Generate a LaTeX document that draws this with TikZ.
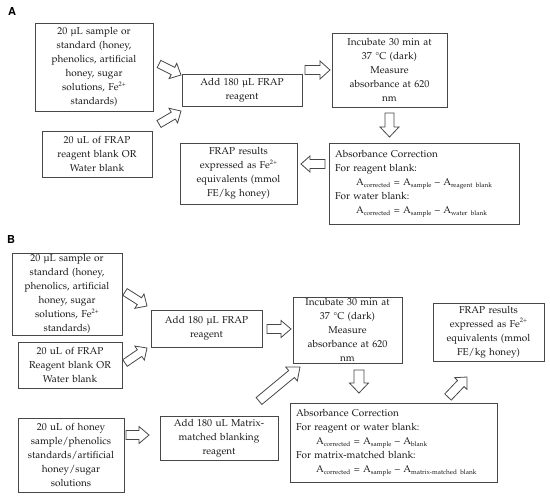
\documentclass[tikz,border=0pt]{standalone}
\usepackage[T1]{fontenc}
\usepackage{mathpazo}
\usetikzlibrary{calc}
\tikzset{
 box/.style={draw=black!72, line width=0.8pt, align=center, inner xsep=0pt, inner ysep=0pt, text=black!90, font=\fontsize{10}{14}\selectfont},
 lbox/.style={box, align=left, inner xsep=6pt},
 blk/.style={draw=black!72, line width=0.8pt, fill=white, line join=miter},
 lbl/.style={font=\fontfamily{phv}\bfseries\fontsize{11}{13}\selectfont}
}
% block arrow: #1 start, #2 tip, #3 shaft half width, #4 head half width, #5 head length
\newcommand\blkarr[5]{%
 \coordinate (tmpN) at ($(#2)!#5!(#1)$);
 \draw[blk] ($(#1)!#3!90:(#2)$) -- ($(tmpN)!#3!-90:(#1)$) -- ($(tmpN)!#4!-90:(#1)$) -- (#2)
   -- ($(tmpN)!#4!90:(#1)$) -- ($(tmpN)!#3!90:(#1)$) -- ($(#1)!#3!-90:(#2)$) -- cycle;}
\newcommand\uL{\textmu L}
\newcommand\lo[1]{\raisebox{-0.35ex}{\fontsize{6.5}{7}\selectfont #1}}
\newcommand\hi[1]{\raisebox{0.9ex}{\fontsize{6.5}{7}\selectfont #1}}
\newcommand\Acor{A\lo{corrected}}
\begin{document}
\begin{tikzpicture}[x=1pt,y=-1pt]
\useasboundingbox (0,0) rectangle (550,498);
% ---------- A ----------
\node[lbl] (labA) at (12,12) {A};
\node[box, text width=118pt, minimum height=88pt] (A1) at (94,67) {20 \uL{} sample or\\standard (honey,\\phenolics, artificial\\honey, sugar\\solutions, Fe\hi{2+}\\standards)};
\node[box, text width=120pt, minimum height=32pt] (A2) at (242,90) {Add 180 \uL{} FRAP\\reagent};
\node[box, text width=110pt, minimum height=46pt] (A3) at (97,154) {20 uL of FRAP\\reagent blank OR\\Water blank};
\node[box, text width=115pt, minimum height=74pt] (A4) at (389.5,70) {Incubate 30 min at\\37 \textdegree C (dark)\\Measure\\absorbance at 620\\nm};
\node[lbox, text width=178pt, minimum height=81pt] (A5) at (424,183.5) {Absorbance Correction\\For reagent blank:\\\hspace*{21pt}\Acor{} = A\lo{sample} -- A\lo{reagent blank}\\For water blank:\\\hspace*{21pt}\Acor{} = A\lo{sample} -- A\lo{water blank}};
\node[box, text width=117pt, minimum height=61pt] (A6) at (238.5,173.5) {FRAP results\\expressed as Fe\hi{2+}\\equivalents (mmol\\FE/kg honey)};
\coordinate (a1s) at (159,64); \coordinate (a1e) at (181,75);
\coordinate (a3s) at (159,124); \coordinate (a3e) at (181,111);
\coordinate (a2s) at (305,70); \coordinate (a2e) at (330,70);
\coordinate (a4s) at (389.5,113); \coordinate (a4e) at (389.5,137);
\coordinate (a5s) at (325,164); \coordinate (a5e) at (301,164);
\blkarr{a1s}{a1e}{4pt}{8.5pt}{9pt}
\blkarr{a3s}{a3e}{4pt}{8.5pt}{9pt}
\blkarr{a2s}{a2e}{4.5pt}{9pt}{10pt}
\blkarr{a4s}{a4e}{4.5pt}{9.5pt}{10pt}
\blkarr{a5s}{a5e}{4.5pt}{8pt}{9pt}
% ---------- B ----------
\node[lbl] (labB) at (11,240) {B};
\node[box, text width=110pt, minimum height=82pt] (B1) at (67,294) {20 \uL{} sample or\\standard (honey,\\phenolics, artificial\\honey, sugar\\solutions, Fe\hi{2+}\\standards)};
\node[box, text width=111pt, minimum height=37pt] (B2) at (206.5,328.5) {Add 180 \uL{} FRAP\\reagent};
\node[box, text width=104pt, minimum height=46pt] (B3) at (70,365) {20 uL of FRAP\\Reagent blank OR\\Water blank};
\node[box, text width=106pt, minimum height=74pt] (B4) at (71,455) {20 uL of honey\\sample/phenolics\\standards/artificial\\honey/sugar\\solutions};
\node[box, text width=118pt, minimum height=44pt] (B5) at (219,438) {Add 180 uL Matrix-\\matched blanking\\reagent};
\node[box, text width=109pt, minimum height=66pt] (B6) at (347.5,330) {Incubate 30 min at\\37 \textdegree C (dark)\\Measure\\absorbance at 620\\nm};
\node[box, text width=111pt, minimum height=58pt] (B7) at (488.5,332) {FRAP results\\expressed as Fe\hi{2+}\\equivalents (mmol\\FE/kg honey)};
\node[lbox, text width=195pt, minimum height=79pt] (B8) at (393.5,442.5) {Absorbance Correction\\For reagent or water blank:\\\hspace*{20pt}\Acor{} = A\lo{sample} -- A\lo{blank}\\For matrix-matched blank:\\\hspace*{20pt}\Acor{} = A\lo{sample} -- A\lo{matrix-matched blank}};
\coordinate (b1s) at (125,292); \coordinate (b1e) at (147,306);
\coordinate (b3s) at (125,363); \coordinate (b3e) at (147,348);
\coordinate (b2s) at (267,329); \coordinate (b2e) at (291,329);
\coordinate (b4s) at (126,435); \coordinate (b4e) at (149,435);
\coordinate (b5s) at (259,401); \coordinate (b5e) at (300,367);
\coordinate (b6s) at (359,370); \coordinate (b6e) at (359,393);
\coordinate (b8s) at (448,397); \coordinate (b8e) at (467,377);
\blkarr{b1s}{b1e}{4pt}{8.5pt}{9pt}
\blkarr{b3s}{b3e}{4pt}{8.5pt}{9pt}
\blkarr{b2s}{b2e}{4.5pt}{8.5pt}{10pt}
\blkarr{b4s}{b4e}{4.5pt}{8.5pt}{10pt}
\blkarr{b5s}{b5e}{4.5pt}{9pt}{11pt}
\blkarr{b6s}{b6e}{5pt}{9.5pt}{10pt}
\blkarr{b8s}{b8e}{4.5pt}{8.5pt}{9pt}
\end{tikzpicture}
\end{document}
